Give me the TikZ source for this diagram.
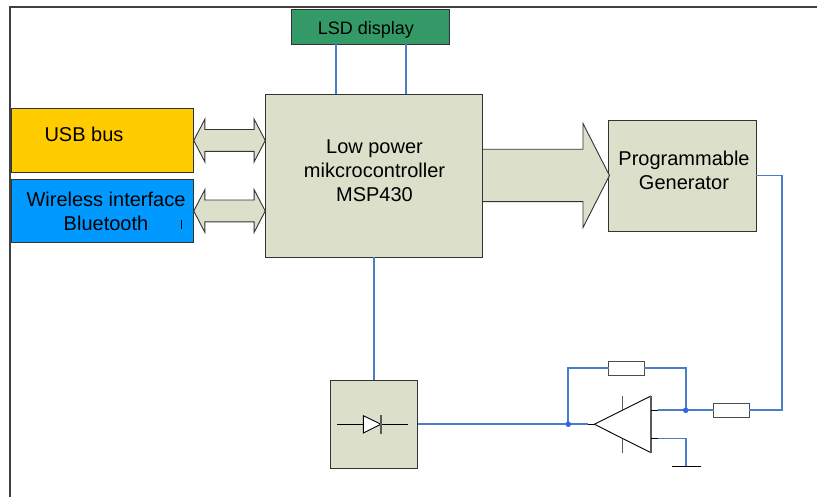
\documentclass[tikz,border=0pt]{standalone}
\usepackage{fontspec}
\setmainfont{Liberation Sans}
\usetikzlibrary{shapes.arrows}
\definecolor{blockfill}{HTML}{DCE0CB}
\definecolor{wireblue}{HTML}{4A7EC8}
\definecolor{dotblue}{HTML}{2F66F0}
\definecolor{lcdgreen}{HTML}{339966}
\definecolor{usbyellow}{HTML}{FFCC00}
\definecolor{wirelessblue}{HTML}{0099FF}

\begin{document}
\begin{tikzpicture}[x=1pt,y=-1pt,
	block/.style={draw=black!80,line width=0.9pt,fill=blockfill,inner sep=0pt,outer sep=0pt},
	txt/.style={align=center,inner sep=0pt,font=\fontsize{18}{24}\selectfont},
	bigtxt/.style={align=center,inner sep=0pt,font=\fontsize{20}{24}\selectfont},
	wire/.style={draw=wireblue,line width=1.7pt},
	lead/.style={draw=black,line width=0.9pt},
	widearrow/.style={draw=black!80,line width=0.9pt,fill=blockfill,inner xsep=0pt,outer sep=0pt},
	duplex/.style={widearrow,double arrow,inner ysep=10.5pt,minimum height=71.5pt,double arrow tip angle=125,double arrow head extend=10.5pt},
	resistor/.style={draw=black!70,line width=1pt,fill=white,inner sep=0pt,outer sep=0pt,minimum width=35.5pt,minimum height=14pt},
	dot/.style={circle,fill=dotblue,inner sep=0pt,minimum size=5.5pt}]
\useasboundingbox (0,0) rectangle (817,497);
\fill[white] (0,0) rectangle (817,497);
\coordinate (framebl) at (10,497);
\coordinate (frametl) at (10,7);
\coordinate (frametr) at (817,7);
\draw[draw=black!75,line width=1.4pt] (framebl) -- (frametl) -- (frametr);

\node[block,fill=lcdgreen,minimum width=158pt,minimum height=35pt] (lcd) at (370.5,26.75) {};
\node[txt] (lcdtext) at (366,29.5) {LSD display};
\node[block,fill=usbyellow,minimum width=182pt,minimum height=63.5pt] (usb) at (102.5,140.25) {};
\node[bigtxt] (usbtext) at (84,134.5) {USB bus};
\node[block,fill=wirelessblue,minimum width=182pt,minimum height=63pt] (wireless) at (102.5,210.5) {};
\node[bigtxt] (wirelesstext) at (106,211) {Wireless interface\\Bluetooth};
\node[block,minimum width=217pt,minimum height=163pt] (mcu) at (374,175.5) {};
\node[bigtxt] (mcutext) at (374.5,171) {Low power\\mikcrocontroller\\MSP430};
\node[block,minimum width=147.5pt,minimum height=111pt] (gen) at (682.5,175.5) {};
\node[bigtxt] (gentext) at (684,170) {Programmable\\Generator};
\node[block,minimum width=87.5pt,minimum height=88pt] (rect) at (374,424.25) {};

\node[duplex] (usblink) at (229.5,140.5) {};
\node[duplex] (wirelesslink) at (229.5,211) {};
\node[widearrow,single arrow,inner ysep=25.75pt,minimum height=127pt,single arrow tip angle=126,single arrow head extend=25.75pt,anchor=tail] (genlink) at (mcu.east) {};

\draw[wire] (336,44.25) -- (336,94);
\draw[wire] (406,44.25) -- (406,94);
\draw[wire] (mcu.south) -- (rect.north);

\draw[black,line width=0.8pt] (181.5,220) -- (181.5,229);

\coordinate (diodeleft) at (337,424.25);
\coordinate (dioderight) at (407.5,424.25);
\coordinate (diodea) at (363.3,415.7);
\coordinate (diodeb) at (363.3,433);
\coordinate (diodec) at (381,424.25);
\draw[lead] (diodeleft) -- (diodea |- diodeleft);
\draw[lead] (diodec) -- (dioderight);
\draw[lead,fill=white] (diodea) -- (diodeb) -- (diodec) -- cycle;
\draw[draw=black!65,line width=1.1pt] (381,415) -- (381,433.5);

\coordinate (opin) at (594.3,424.25);
\coordinate (optop) at (651,396);
\coordinate (opbot) at (651,452.7);
\coordinate (opwire) at (588,424.25);
\coordinate (opout) at (657.5,410.3);
\coordinate (opgnd) at (657.5,438.4);
\draw[lead] (opin) -- (optop);
\draw[lead] (opin) -- (opbot);
\draw[draw=black!65,line width=1.1pt] (optop) -- (opbot);
\draw[draw=black!65,line width=1.1pt] (622.7,396) -- (622.7,410);
\draw[draw=black!65,line width=1.1pt] (622.7,438.5) -- (622.7,452.7);
\draw[lead] (opwire) -- (opin);
\draw[lead] (651,410.3) -- (opout);
\draw[lead] (651,438.4) -- (opgnd);

\node[resistor] (rfb) at (626.3,368) {};
\node[resistor] (rout) at (731.7,410.3) {};
\coordinate (jin) at (568.3,424.25);
\coordinate (jout) at (685.7,410.3);
\coordinate (ground) at (685.7,466.5);
\coordinate (genturn) at (782.3,175.5);

\draw[wire] (rect.east |- opwire) -- (jin) -- (opwire);
\draw[wire] (jin) |- (rfb.west);
\draw[wire] (rfb.east) -| (jout);
\draw[wire] (opout) -- (jout) -- (rout.west);
\draw[wire] (opgnd) -| (ground);
\draw[black,line width=1.8pt] (671.7,466.5) -- (700.5,466.5);
\draw[wire] (gen.east) -- (genturn) |- (rout.east);
\node[dot] (jindot) at (jin) {};
\node[dot] (joutdot) at (jout) {};
\end{tikzpicture}
\end{document}
